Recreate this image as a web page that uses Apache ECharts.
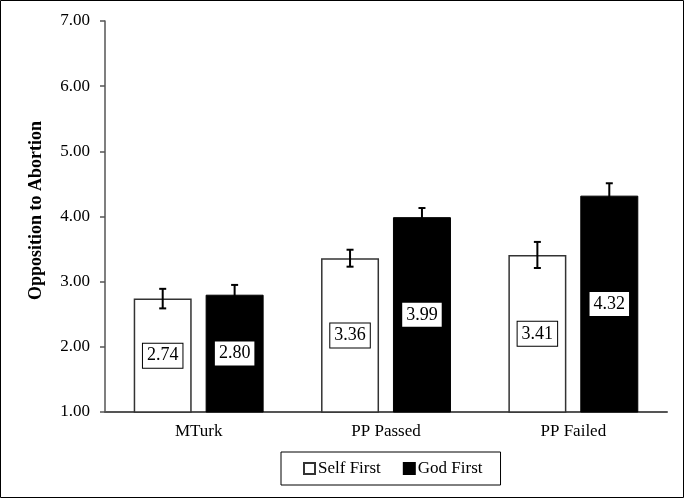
<!DOCTYPE html>
<html>
<head>
<meta charset="utf-8">
<script src="https://cdn.jsdelivr.net/npm/echarts@6/dist/echarts.min.js"></script>
<style>html,body{margin:0;padding:0;background:#fff}#c{width:685px;height:499px}</style>
</head>
<body>
<div id="c"></div>
<script>
var categories = ['MTurk', 'PP Passed', 'PP Failed'];
var selfFirst = [2.74, 3.36, 3.41];
var godFirst = [2.80, 3.99, 4.32];
var selfErr = [0.15, 0.13, 0.20];
var godErr = [0.15, 0.14, 0.19];
var yTicks = [1, 2, 3, 4, 5, 6, 7];

var FONT = '"Liberation Serif", "Times New Roman", serif';
var BAR_W = 58, GAP_RATIO = 0.24;

function errSeries(name, means, errs, sign) {
  return {
    type: 'custom',
    name: name + ' err',
    z: 5,
    silent: true,
    data: means.map(function (m, i) { return [i, m, errs[i]]; }),
    renderItem: function (params, api) {
      var idx = api.value(0), m = api.value(1), e = api.value(2);
      var off = sign * (BAR_W + BAR_W * GAP_RATIO) / 2;
      var top = api.coord([idx, m + e]);
      var bot = api.coord([idx, m - e]);
      var x = top[0] + off;
      var cap = 3.5;
      var st = { stroke: '#000', lineWidth: 2 };
      return {
        type: 'group',
        children: [
          { type: 'line', shape: { x1: x, y1: top[1], x2: x, y2: bot[1] }, style: st },
          { type: 'line', shape: { x1: x - cap, y1: top[1], x2: x + cap, y2: top[1] }, style: st },
          { type: 'line', shape: { x1: x - cap, y1: bot[1], x2: x + cap, y2: bot[1] }, style: st }
        ]
      };
    }
  };
}

var labelStyle = {
  show: true,
  position: 'inside',
  formatter: function (p) { return p.value.toFixed(2); },
  color: '#000',
  fontFamily: FONT,
  fontSize: 18,
  backgroundColor: '#fff',
  borderColor: '#000',
  borderWidth: 1,
  padding: [4, 4, 2, 4]
};

var chart = echarts.init(document.getElementById('c'), null, { renderer: 'canvas' });
chart.setOption({
  animation: false,
  backgroundColor: '#fff',
  textStyle: { fontFamily: FONT },
  grid: { left: 105, right: 18, top: 21, bottom: 87, containLabel: false },
  xAxis: {
    type: 'category',
    data: categories,
    axisLine: { lineStyle: { color: '#555', width: 2 } },
    axisTick: { show: false },
    axisLabel: { color: '#000', fontFamily: FONT, fontSize: 17, margin: 11 }
  },
  yAxis: {
    type: 'value',
    min: yTicks[0],
    max: yTicks[yTicks.length - 1],
    interval: 1,
    name: 'Opposition to Abortion',
    nameLocation: 'middle',
    nameGap: 60,
    nameTextStyle: { color: '#000', fontFamily: FONT, fontSize: 18, fontWeight: 'bold', padding: [0, 0, 0, 12] },
    axisLine: { show: true, lineStyle: { color: '#555', width: 1.5 } },
    axisTick: { show: true, inside: false, length: 5, lineStyle: { color: '#555', width: 1.5 } },
    splitLine: { show: false },
    axisLabel: {
      color: '#000', fontFamily: FONT, fontSize: 17, margin: 15,
      formatter: function (v) { return v.toFixed(2); }
    }
  },
  legend: {
    left: 281,
    top: 452,
    orient: 'horizontal',
    data: ['Self First', 'God First'],
    borderColor: '#000',
    borderWidth: 1,
    padding: [8, 18, 8, 22],
    itemWidth: 11,
    itemHeight: 11,
    itemGap: 22,
    icon: 'rect',
    textStyle: { color: '#000', fontFamily: FONT, fontSize: 17, padding: [0, 0, 0, -2] }
  },
  graphic: [{
    type: 'rect',
    shape: { x: 0.5, y: 0.5, width: 683, height: 497 },
    style: { fill: 'none', stroke: '#000', lineWidth: 1 },
    silent: true
  }],
  series: [
    {
      type: 'bar',
      name: 'Self First',
      data: selfFirst,
      barWidth: BAR_W,
      barGap: (GAP_RATIO * 100) + '%',
      itemStyle: { color: '#fff', borderColor: '#333', borderWidth: 1.5 },
      label: labelStyle
    },
    {
      type: 'bar',
      name: 'God First',
      data: godFirst,
      barWidth: BAR_W,
      barGap: (GAP_RATIO * 100) + '%',
      itemStyle: { color: '#000', borderColor: '#000', borderWidth: 1 },
      label: labelStyle
    },
    errSeries('Self First', selfFirst, selfErr, -1),
    errSeries('God First', godFirst, godErr, 1)
  ]
});
</script>
</body>
</html>
